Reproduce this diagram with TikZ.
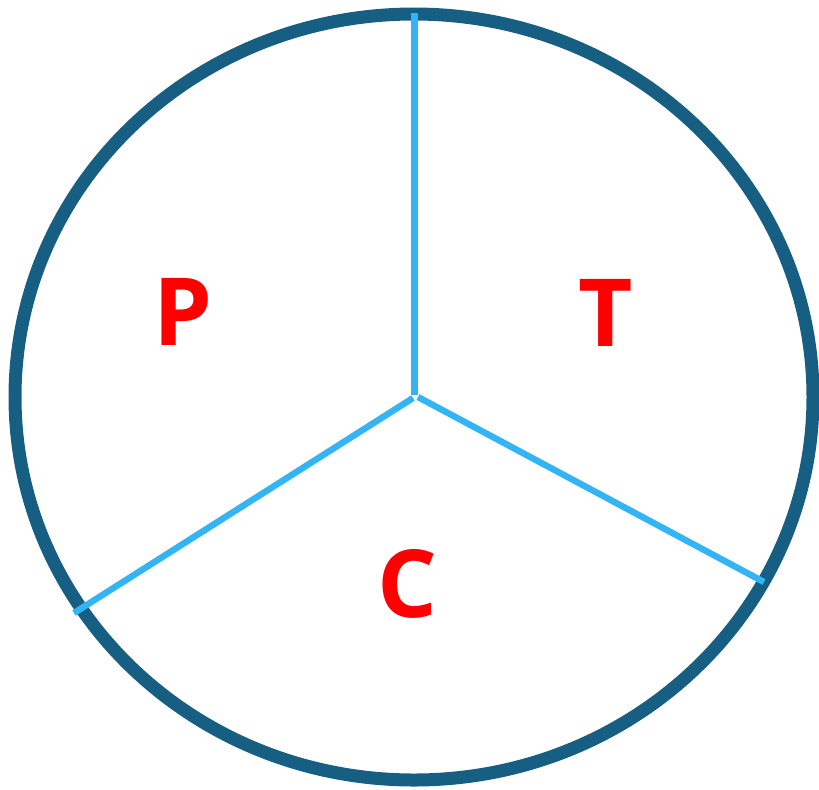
\documentclass[tikz,border=0pt]{standalone}
\usepackage{fontspec}
\setsansfont{Open Sans}
\usetikzlibrary{backgrounds}

\definecolor{rimblue}{RGB}{22,94,130}
\definecolor{spokeblue}{RGB}{51,181,245}

\tikzset{
  rim/.style={line width=6.5pt, draw=rimblue},
  spoke/.style={line width=3.2pt, draw=spokeblue},
  sector/.style={text=red, font=\sffamily\bfseries\fontsize{47}{47}\selectfont, inner sep=0pt}
}

\begin{document}
\begin{tikzpicture}[x=0.5pt, y=-0.5pt]

\useasboundingbox (0,0) rectangle (819,789);

% rim
\draw [rim] (414,397) ellipse [x radius=399, y radius=383];

% hub and ends of the spokes
\coordinate (hubt) at (414.5,395);
\coordinate (hubl) at (413,398);
\coordinate (hubr) at (418,397);
\coordinate (topend) at (414.5,13);
\coordinate (leftend) at (74,613);
\coordinate (rightend) at (764,582);

\draw [spoke] (hubt) -- (topend);
\draw [spoke] (hubl) -- (leftend);
\draw [spoke] (hubr) -- (rightend);

% labels
\node [sector] (p) at (183,312) {P};
\node [sector] (t) at (606,313) {T};
\node [sector] (c) at (407,584) {C};

\end{tikzpicture}
\end{document}
